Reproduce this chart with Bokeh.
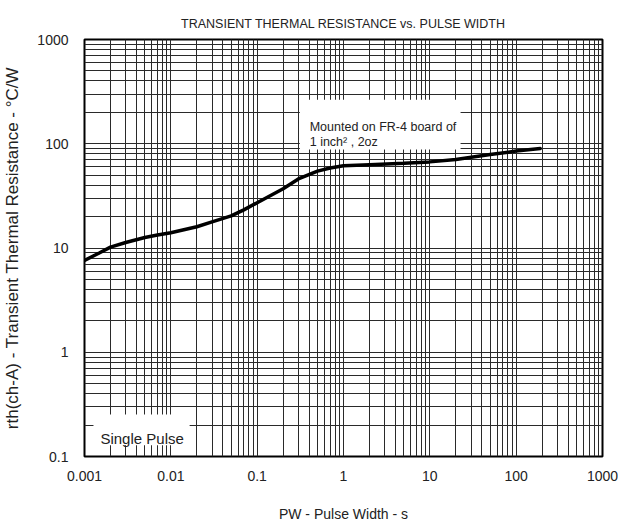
from bokeh.plotting import figure
from bokeh.models import FixedTicker, CustomJSTickFormatter, BoxAnnotation, Label
from bokeh.embed import file_html
from bokeh.resources import INLINE

# ---- data ----
pulse_width_s = [0.001, 0.0015, 0.002, 0.003, 0.005, 0.007, 0.01, 0.02, 0.03, 0.05,
                 0.07, 0.1, 0.2, 0.3, 0.5, 0.7, 1, 2, 5, 10, 20, 50, 100, 190]
rth_c_per_w = [7.6, 9.0, 10.2, 11.3, 12.6, 13.3, 14.0, 16.0, 17.8, 20.3,
               23.2, 27.2, 37.0, 46.0, 54.6, 58.5, 61.5, 63.0, 65.0, 67.0, 70.6, 79.0, 85.0, 90.0]

x_decades = [0.001, 0.01, 0.1, 1, 10, 100, 1000]
x_tick_labels = ["0.001", "0.01", "0.1", "1", "10", "100", "1000"]
y_decades = [0.1, 1, 10, 100, 1000]
y_tick_labels = ["0.1", "1", "10", "100", "1000"]
minor_multipliers = [2, 3, 4, 5, 6, 7, 8, 9]

title_text = "TRANSIENT THERMAL RESISTANCE vs. PULSE WIDTH"
x_label = "PW - Pulse Width - s"
y_label = "rth(ch-A) - Transient Thermal Resistance - °C/W"
note_line1 = "Mounted on FR-4 board of"
note_line2 = "1 inch² , 2oz"
pulse_note = "Single Pulse"

FONT = "Liberation Sans"
TXT = "#222222"
GRID = "#2a2a2a"

x_minor = [d * m for d in x_decades[:-1] for m in minor_multipliers]
y_minor = [d * m for d in y_decades[:-1] for m in minor_multipliers]

p = figure(frame_width=518, frame_height=417, x_axis_type="log", y_axis_type="log",
           x_range=(x_decades[0], x_decades[-1]), y_range=(y_decades[0], y_decades[-1]),
           output_backend="svg", toolbar_location=None,
           min_border_left=78, min_border_right=16, min_border_top=39, min_border_bottom=65)

p.title.text = title_text
p.title.align = "center"
p.title.text_font = FONT
p.title.text_font_size = "12.5px"
p.title.text_font_style = "normal"
p.title.text_color = TXT
p.title.standoff = 17

fmt_code = """
for (let i = 0; i < decs.length; i++) {
  if (Math.abs(Math.log10(tick) - Math.log10(decs[i])) < 1e-6) return labs[i];
}
return '';
"""

p.xaxis.ticker = FixedTicker(ticks=x_decades, minor_ticks=x_minor)
p.yaxis.ticker = FixedTicker(ticks=y_decades, minor_ticks=y_minor)
p.xaxis.formatter = CustomJSTickFormatter(args=dict(decs=x_decades, labs=x_tick_labels), code=fmt_code)
p.yaxis.formatter = CustomJSTickFormatter(args=dict(decs=y_decades, labs=y_tick_labels), code=fmt_code)

for ax in (p.xaxis, p.yaxis):
    ax.axis_line_color = None
    ax.major_tick_line_color = None
    ax.minor_tick_line_color = None
    ax.major_tick_out = 0
    ax.major_tick_in = 0
    ax.major_label_text_font = FONT
    ax.major_label_text_font_size = "14px"
    ax.major_label_text_color = TXT
    ax.axis_label_text_font = FONT
    ax.axis_label_text_font_style = "normal"
    ax.axis_label_text_color = TXT

p.xaxis.axis_label = x_label
p.yaxis.axis_label = y_label
p.xaxis.axis_label_text_font_size = "14px"
p.yaxis.axis_label_text_font_size = "17px"
p.xaxis.major_label_standoff = 10
p.yaxis.major_label_standoff = 12
p.xaxis.axis_label_standoff = 22
p.yaxis.axis_label_standoff = 12

for g in (p.xgrid, p.ygrid):
    g.grid_line_color = GRID
    g.grid_line_width = 1
    g.grid_line_alpha = 1
    g.minor_grid_line_color = GRID
    g.minor_grid_line_width = 1
    g.minor_grid_line_alpha = 1

p.outline_line_color = "black"
p.outline_line_width = 2
p.background_fill_color = "white"
p.border_fill_color = "white"

# white boxes behind the notes
p.add_layout(BoxAnnotation(left=0.312, right=22.7, bottom=88, top=265,
                           fill_color="white", fill_alpha=1, line_color=None))
p.add_layout(BoxAnnotation(left=0.00127, right=0.0165, bottom=0.128, top=0.253,
                           fill_color="white", fill_alpha=1, line_color=None))

p.line(pulse_width_s, rth_c_per_w, line_color="black", line_width=3.5, line_cap="round")

p.add_layout(Label(x=0.406, y=146, text=note_line1, text_font=FONT, text_font_size="12.5px",
                   text_color=TXT, text_baseline="alphabetic"))
p.add_layout(Label(x=0.406, y=105, text=note_line2, text_font=FONT, text_font_size="12.5px",
                   text_color=TXT, text_baseline="alphabetic"))
p.add_layout(Label(x=0.00153, y=0.149, text=pulse_note, text_font=FONT, text_font_size="15px",
                   text_color=TXT, text_baseline="alphabetic"))

open("out.html", "w").write(file_html(p, INLINE))
